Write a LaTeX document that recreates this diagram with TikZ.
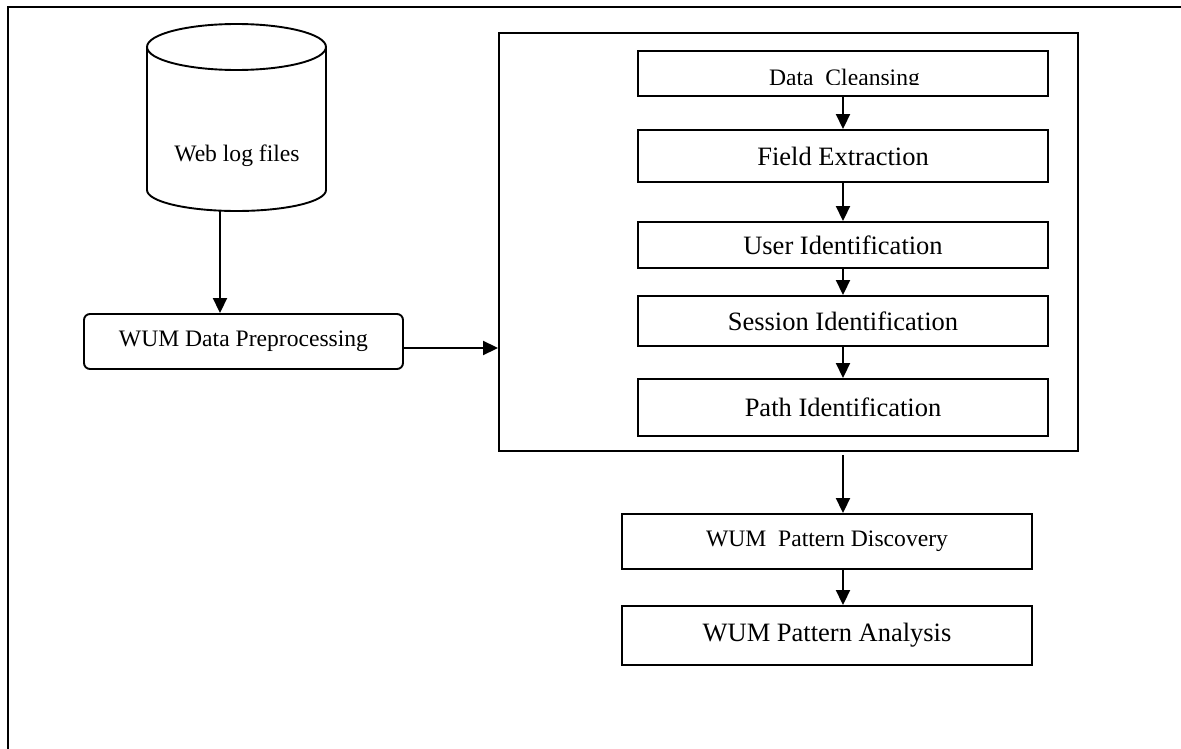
\documentclass[tikz,border=0pt]{standalone}
\usepackage{fontspec}
\setmainfont{Liberation Serif}
\usetikzlibrary{arrows.meta}
\begin{document}
\begin{tikzpicture}[x=1pt,y=-1pt,
  lw/.style={line width=1.9pt},
  stepbox/.style={draw,lw,inner sep=0pt,minimum width=410pt,font=\fontsize{26.5}{30}\selectfont},
  smallfont/.style={font=\fontsize{23.6}{27}\selectfont},
  arr/.style={lw,-{Triangle[length=15pt,width=14pt]}}]
\useasboundingbox (0,0) rectangle (1181,749);
% outer border (top and left edges)
\draw[lw] (1181,7) -- (8,7) -- (8,749);
% cylinder
\draw[lw] (236.5,47) ellipse [x radius=89.5pt, y radius=23pt];
\draw[lw] (147,47) -- (147,190) arc[start angle=180, end angle=360, x radius=89.5pt, y radius=21pt] -- (326,47);
\node[smallfont] (web) at (237,156) {Web log files};
\coordinate (cylb) at (220,211);
% preprocessing
\node[draw,lw,rounded corners=6pt,minimum width=319pt,minimum height=55pt,inner sep=0pt,smallfont] (wdp) at (243.5,341.5) {WUM Data Preprocessing};
\coordinate (wdpout) at ([yshift=-6.5pt]wdp.east);
% big container
\node[draw,lw,minimum width=579pt,minimum height=418pt,inner sep=0pt] (big) at (788.5,242) {};
\node[stepbox,minimum height=45pt] (dc) at (843,73.5) {};
\begin{scope}
\clip (638,51) rectangle (1048,84.5);
\node[smallfont,anchor=base,inner sep=0pt] (dct) at (844.5,85.5) {Data\ \ Cleansing};
\end{scope}
\node[stepbox,minimum height=52pt] (fe) at (843,156) {Field Extraction};
\node[stepbox,minimum height=46pt] (ui) at (843,245) {User Identification};
\node[stepbox,minimum height=50pt] (si) at (843,321) {Session Identification};
\node[stepbox,minimum height=57pt] (pi) at (843,407.5) {Path Identification};
% discovery and analysis
\node[stepbox,minimum height=55pt,smallfont] (pd) at (827,541.5) {WUM\ \ Pattern Discovery};
\node[stepbox,minimum height=59pt] (pa) at (827,635.5) {WUM Pattern Analysis};
% connectors
\draw[arr] (cylb) -- (cylb |- wdp.north);
\draw[arr] (wdpout) -- (big.west |- wdpout);
\draw[arr] (dc.south) -- (fe.north);
\draw[arr] (fe.south) -- (ui.north);
\draw[arr] (ui.south) -- (si.north);
\draw[arr] (si.south) -- (pi.north);
\draw[arr,shorten <=3pt] (dc.south |- big.south) -- (dc.south |- pd.north);
\draw[arr] (dc.south |- pd.south) -- (dc.south |- pa.north);
\end{tikzpicture}
\end{document}
